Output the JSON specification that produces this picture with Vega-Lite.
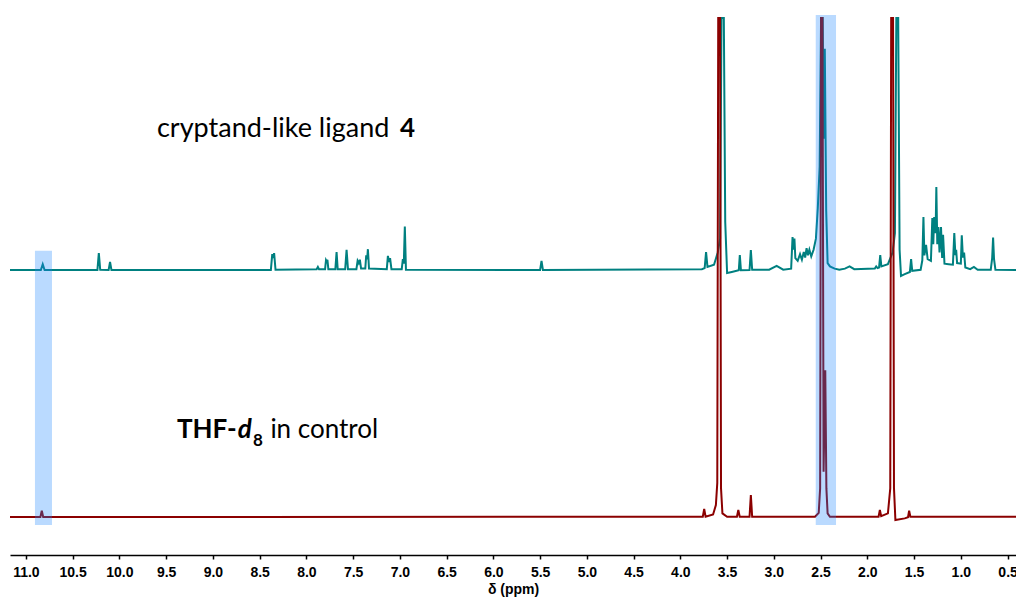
{
  "$schema": "https://vega.github.io/schema/vega-lite/v6.json",
  "width": 1006,
  "height": 555,
  "autosize": {"type": "none"},
  "padding": {"left": 10, "top": 0, "right": 0, "bottom": 43},
  "background": "white",
  "config": {"view": {"stroke": null}},
  "datasets": {
    "spec": [
      {"s":"ligand","ppm":11.17,"i":51.35},{"s":"ligand","ppm":10.84,"i":51.35},{"s":"ligand","ppm":10.82,"i":52.4},{"s":"ligand","ppm":10.80,"i":51.35},
      {"s":"ligand","ppm":10.235,"i":51.35},{"s":"ligand","ppm":10.22,"i":54.4},{"s":"ligand","ppm":10.205,"i":51.4},
      {"s":"ligand","ppm":10.115,"i":51.35},{"s":"ligand","ppm":10.10,"i":52.8},{"s":"ligand","ppm":10.085,"i":51.35},
      {"s":"ligand","ppm":8.38,"i":51.35},{"s":"ligand","ppm":8.365,"i":54.2},{"s":"ligand","ppm":8.355,"i":53.5},{"s":"ligand","ppm":8.345,"i":54.4},{"s":"ligand","ppm":8.33,"i":51.4},
      {"s":"ligand","ppm":7.89,"i":51.5},{"s":"ligand","ppm":7.877,"i":51.9},{"s":"ligand","ppm":7.865,"i":51.5},
      {"s":"ligand","ppm":7.80,"i":51.5},{"s":"ligand","ppm":7.79,"i":53.15},{"s":"ligand","ppm":7.782,"i":52.9},{"s":"ligand","ppm":7.775,"i":53.2},{"s":"ligand","ppm":7.765,"i":51.5},
      {"s":"ligand","ppm":7.69,"i":51.5},{"s":"ligand","ppm":7.677,"i":54.6},{"s":"ligand","ppm":7.665,"i":51.5},
      {"s":"ligand","ppm":7.585,"i":51.5},{"s":"ligand","ppm":7.57,"i":55.0},{"s":"ligand","ppm":7.555,"i":51.5},
      {"s":"ligand","ppm":7.465,"i":51.5},{"s":"ligand","ppm":7.452,"i":53.0},{"s":"ligand","ppm":7.44,"i":52.6},{"s":"ligand","ppm":7.428,"i":53.2},{"s":"ligand","ppm":7.415,"i":51.6},
      {"s":"ligand","ppm":7.37,"i":51.6},{"s":"ligand","ppm":7.36,"i":54.0},{"s":"ligand","ppm":7.35,"i":53.3},{"s":"ligand","ppm":7.342,"i":55.1},{"s":"ligand","ppm":7.33,"i":51.6},
      {"s":"ligand","ppm":7.14,"i":51.5},{"s":"ligand","ppm":7.128,"i":53.9},{"s":"ligand","ppm":7.115,"i":52.8},{"s":"ligand","ppm":7.105,"i":53.5},{"s":"ligand","ppm":7.09,"i":51.5},
      {"s":"ligand","ppm":6.98,"i":51.5},{"s":"ligand","ppm":6.968,"i":53.3},{"s":"ligand","ppm":6.958,"i":52.5},{"s":"ligand","ppm":6.947,"i":59.2},{"s":"ligand","ppm":6.935,"i":51.4},
      {"s":"ligand","ppm":5.50,"i":51.35},{"s":"ligand","ppm":5.485,"i":53.0},{"s":"ligand","ppm":5.47,"i":51.35},
      {"s":"ligand","ppm":3.77,"i":51.5},{"s":"ligand","ppm":3.74,"i":51.7},{"s":"ligand","ppm":3.725,"i":54.6},{"s":"ligand","ppm":3.71,"i":51.9},
      {"s":"ligand","ppm":3.64,"i":52.3},{"s":"ligand","ppm":3.60,"i":54.5},{"s":"ligand","ppm":3.575,"i":57},{"s":"ligand","ppm":3.56,"i":96.76},{"s":"ligand","ppm":3.535,"i":96.76},{"s":"ligand","ppm":3.52,"i":60},
      {"s":"ligand","ppm":3.50,"i":50.8},{"s":"ligand","ppm":3.45,"i":51.0},
      {"s":"ligand","ppm":3.375,"i":51.3},{"s":"ligand","ppm":3.364,"i":54.05},{"s":"ligand","ppm":3.352,"i":51.3},
      {"s":"ligand","ppm":3.26,"i":51.35},{"s":"ligand","ppm":3.246,"i":54.95},{"s":"ligand","ppm":3.232,"i":51.4},
      {"s":"ligand","ppm":3.05,"i":51.4},{"s":"ligand","ppm":2.97,"i":52.1},{"s":"ligand","ppm":2.90,"i":51.4},
      {"s":"ligand","ppm":2.815,"i":51.6},{"s":"ligand","ppm":2.80,"i":57.3},{"s":"ligand","ppm":2.79,"i":55},{"s":"ligand","ppm":2.78,"i":57.0},{"s":"ligand","ppm":2.77,"i":53.5},
      {"s":"ligand","ppm":2.745,"i":53},{"s":"ligand","ppm":2.72,"i":54.2},{"s":"ligand","ppm":2.70,"i":53.2},{"s":"ligand","ppm":2.68,"i":54.6},{"s":"ligand","ppm":2.665,"i":53.6},
      {"s":"ligand","ppm":2.65,"i":55.3},{"s":"ligand","ppm":2.635,"i":54.0},{"s":"ligand","ppm":2.62,"i":55.0},{"s":"ligand","ppm":2.60,"i":53.8},
      {"s":"ligand","ppm":2.575,"i":55.0},{"s":"ligand","ppm":2.55,"i":57},{"s":"ligand","ppm":2.53,"i":62.5},{"s":"ligand","ppm":2.51,"i":70},
      {"s":"ligand","ppm":2.495,"i":96.76},{"s":"ligand","ppm":2.478,"i":96.76},{"s":"ligand","ppm":2.465,"i":75},{"s":"ligand","ppm":2.455,"i":91.2},{"s":"ligand","ppm":2.44,"i":62},
      {"s":"ligand","ppm":2.425,"i":52.6},{"s":"ligand","ppm":2.40,"i":52.0},{"s":"ligand","ppm":2.35,"i":51.6},{"s":"ligand","ppm":2.30,"i":51.4},
      {"s":"ligand","ppm":2.24,"i":51.6},{"s":"ligand","ppm":2.19,"i":52.0},{"s":"ligand","ppm":2.14,"i":51.5},
      {"s":"ligand","ppm":1.92,"i":51.6},{"s":"ligand","ppm":1.905,"i":52.0},{"s":"ligand","ppm":1.89,"i":51.7},{"s":"ligand","ppm":1.875,"i":51.8},{"s":"ligand","ppm":1.862,"i":54.05},{"s":"ligand","ppm":1.85,"i":52.0},
      {"s":"ligand","ppm":1.78,"i":52.4},{"s":"ligand","ppm":1.73,"i":54.5},{"s":"ligand","ppm":1.705,"i":58},{"s":"ligand","ppm":1.69,"i":96.76},{"s":"ligand","ppm":1.67,"i":96.76},{"s":"ligand","ppm":1.655,"i":55},
      {"s":"ligand","ppm":1.64,"i":50.27},{"s":"ligand","ppm":1.60,"i":50.6},{"s":"ligand","ppm":1.545,"i":51.0},{"s":"ligand","ppm":1.532,"i":53.3},{"s":"ligand","ppm":1.52,"i":51.2},
      {"s":"ligand","ppm":1.43,"i":51.4},{"s":"ligand","ppm":1.412,"i":53.1},{"s":"ligand","ppm":1.40,"i":60.9},{"s":"ligand","ppm":1.39,"i":54},{"s":"ligand","ppm":1.372,"i":55.9},{"s":"ligand","ppm":1.355,"i":53.3},
      {"s":"ligand","ppm":1.32,"i":53.0},{"s":"ligand","ppm":1.305,"i":60.7},{"s":"ligand","ppm":1.295,"i":56},{"s":"ligand","ppm":1.285,"i":60.9},{"s":"ligand","ppm":1.27,"i":58},
      {"s":"ligand","ppm":1.262,"i":66.3},{"s":"ligand","ppm":1.252,"i":56},{"s":"ligand","ppm":1.24,"i":59.1},{"s":"ligand","ppm":1.228,"i":54.5},{"s":"ligand","ppm":1.212,"i":59.1},{"s":"ligand","ppm":1.20,"i":53.5},
      {"s":"ligand","ppm":1.19,"i":57.7},{"s":"ligand","ppm":1.175,"i":52.5},{"s":"ligand","ppm":1.13,"i":52.4},
      {"s":"ligand","ppm":1.085,"i":52.3},{"s":"ligand","ppm":1.07,"i":58.0},{"s":"ligand","ppm":1.058,"i":54},{"s":"ligand","ppm":1.05,"i":55},{"s":"ligand","ppm":1.04,"i":52.6},
      {"s":"ligand","ppm":1.00,"i":52.5},{"s":"ligand","ppm":0.99,"i":57.6},{"s":"ligand","ppm":0.978,"i":53.6},{"s":"ligand","ppm":0.965,"i":54.5},{"s":"ligand","ppm":0.952,"i":51.8},
      {"s":"ligand","ppm":0.90,"i":51.5},{"s":"ligand","ppm":0.86,"i":51.9},{"s":"ligand","ppm":0.82,"i":51.4},
      {"s":"ligand","ppm":0.68,"i":51.4},{"s":"ligand","ppm":0.665,"i":53.5},{"s":"ligand","ppm":0.655,"i":57.2},{"s":"ligand","ppm":0.645,"i":53.3},{"s":"ligand","ppm":0.63,"i":51.4},
      {"s":"ligand","ppm":0.41,"i":51.35},

      {"s":"control","ppm":11.17,"i":6.85},{"s":"control","ppm":10.845,"i":6.85},{"s":"control","ppm":10.83,"i":7.98},{"s":"control","ppm":10.815,"i":6.85},
      {"s":"control","ppm":3.76,"i":6.9},{"s":"control","ppm":3.745,"i":8.29},{"s":"control","ppm":3.73,"i":6.9},
      {"s":"control","ppm":3.65,"i":7.3},{"s":"control","ppm":3.62,"i":9.0},{"s":"control","ppm":3.605,"i":13},{"s":"control","ppm":3.595,"i":96.76},{"s":"control","ppm":3.575,"i":96.76},{"s":"control","ppm":3.565,"i":12},{"s":"control","ppm":3.55,"i":7.5},
      {"s":"control","ppm":3.50,"i":6.9},{"s":"control","ppm":3.395,"i":6.9},{"s":"control","ppm":3.38,"i":8.11},{"s":"control","ppm":3.365,"i":6.9},
      {"s":"control","ppm":3.26,"i":6.9},{"s":"control","ppm":3.246,"i":10.81},{"s":"control","ppm":3.232,"i":6.9},
      {"s":"control","ppm":2.56,"i":6.9},{"s":"control","ppm":2.52,"i":7.6},{"s":"control","ppm":2.505,"i":12},{"s":"control","ppm":2.495,"i":96.76},{"s":"control","ppm":2.48,"i":96.76},{"s":"control","ppm":2.468,"i":15},{"s":"control","ppm":2.45,"i":33.3},{"s":"control","ppm":2.438,"i":12},{"s":"control","ppm":2.425,"i":7.5},{"s":"control","ppm":2.40,"i":6.9},
      {"s":"control","ppm":1.88,"i":6.9},{"s":"control","ppm":1.866,"i":8.11},{"s":"control","ppm":1.852,"i":7.0},
      {"s":"control","ppm":1.78,"i":7.5},{"s":"control","ppm":1.755,"i":12},{"s":"control","ppm":1.745,"i":96.76},{"s":"control","ppm":1.725,"i":96.76},{"s":"control","ppm":1.715,"i":12},{"s":"control","ppm":1.70,"i":6.3},
      {"s":"control","ppm":1.60,"i":6.6},{"s":"control","ppm":1.565,"i":6.8},{"s":"control","ppm":1.553,"i":8.0},{"s":"control","ppm":1.54,"i":6.9},{"s":"control","ppm":0.41,"i":6.9}
    ],
    "boxes": [
      {"x1":10.903,"x2":10.721,"y1":54.8,"y2":5.4},
      {"x1":2.552,"x2":2.335,"y1":97.3,"y2":5.4}
    ],
    "regular1": [
      {"ppm":9.598,"i":75.37,"t":"cryptand-like ligand"}
    ],
    "regular2": [
      {"ppm":8.385,"i":21.03,"t":"in control"}
    ],
    "boldright": [
      {"ppm":6.838,"i":75.37,"t":"4"}
    ],
    "bold": [
      {"ppm":9.384,"i":21.03,"t":"THF-"}
    ],
    "boldital": [{"ppm":8.735,"i":21.03,"t":"d"}],
    "sub": [{"ppm":8.572,"i":19.6,"t":"8"}]
  },
  "layer": [
    {
      "data": {"name": "spec"},
      "mark": {"type": "line", "strokeWidth": 2, "clip": true, "interpolate": "linear"},
      "encoding": {
        "x": {"field": "ppm", "type": "quantitative", "sort": null,
              "scale": {"domain": [0.41, 11.17], "reverse": true, "nice": false, "zero": false},
              "axis": {"title": "δ (ppm)", "grid": false,
                       "values": [0.5,0.75,1.0,1.25,1.5,1.75,2.0,2.25,2.5,2.75,3.0,3.25,3.5,3.75,4.0,4.25,4.5,4.75,5.0,5.25,5.5,5.75,6.0,6.25,6.5,6.75,7.0,7.25,7.5,7.75,8.0,8.25,8.5,8.75,9.0,9.25,9.5,9.75,10.0,10.25,10.5,10.75,11.0],
                       "labelExpr": "abs(datum.value*2 - round(datum.value*2)) < 0.01 ? format(datum.value, '.1f') : ''",
                       "labelOverlap": false, "labelFlush": false,
                       "domainColor": "black", "domainWidth": 1.5, "tickColor": "black", "tickWidth": 1.5, "tickSize": 4,
                       "labelFont": "Liberation Sans", "labelFontWeight": "bold", "labelFontSize": 14, "labelColor": "black", "labelPadding": 6,
                       "titleFont": "Liberation Sans", "titleFontWeight": "bold", "titleFontSize": 14, "titleColor": "black", "titlePadding": 3}},
        "y": {"field": "i", "type": "quantitative", "scale": {"domain": [0, 100], "nice": false}, "axis": null},
        "color": {"field": "s", "type": "nominal", "scale": {"domain": ["ligand", "control"], "range": ["#008080", "#8b0000"]}, "legend": null},
        "order": {"field": "ppm", "type": "quantitative", "sort": "descending"}
      }
    },
    {
      "data": {"name": "boxes"},
      "mark": {"type": "rect", "color": "#1a84ff", "opacity": 0.3},
      "encoding": {
        "x": {"field": "x1", "type": "quantitative"},
        "x2": {"field": "x2"},
        "y": {"field": "y1", "type": "quantitative"},
        "y2": {"field": "y2"}
      }
    },
    {
      "data": {"name": "regular1"},
      "mark": {"type": "text", "align": "left", "baseline": "alphabetic", "font": "Lato", "fontSize": 27, "color": "black"},
      "encoding": {"x": {"field": "ppm", "type": "quantitative"}, "y": {"field": "i", "type": "quantitative"}, "text": {"field": "t"}}
    },
    {
      "data": {"name": "regular2"},
      "mark": {"type": "text", "align": "left", "baseline": "alphabetic", "font": "Lato", "fontSize": 26, "color": "black"},
      "encoding": {"x": {"field": "ppm", "type": "quantitative"}, "y": {"field": "i", "type": "quantitative"}, "text": {"field": "t"}}
    },
    {
      "data": {"name": "boldright"},
      "mark": {"type": "text", "align": "right", "baseline": "alphabetic", "font": "Lato", "fontSize": 26, "fontWeight": "bold", "color": "black"},
      "encoding": {"x": {"field": "ppm", "type": "quantitative"}, "y": {"field": "i", "type": "quantitative"}, "text": {"field": "t"}}
    },
    {
      "data": {"name": "bold"},
      "mark": {"type": "text", "align": "left", "baseline": "alphabetic", "font": "Lato", "fontSize": 26, "fontWeight": "bold", "color": "black"},
      "encoding": {"x": {"field": "ppm", "type": "quantitative"}, "y": {"field": "i", "type": "quantitative"}, "text": {"field": "t"}}
    },
    {
      "data": {"name": "boldital"},
      "mark": {"type": "text", "align": "left", "baseline": "alphabetic", "font": "Lato", "fontSize": 26, "fontWeight": "bold", "fontStyle": "italic", "color": "black"},
      "encoding": {"x": {"field": "ppm", "type": "quantitative"}, "y": {"field": "i", "type": "quantitative"}, "text": {"field": "t"}}
    },
    {
      "data": {"name": "sub"},
      "mark": {"type": "text", "align": "left", "baseline": "alphabetic", "font": "Lato", "fontSize": 17, "fontWeight": "bold", "color": "black"},
      "encoding": {"x": {"field": "ppm", "type": "quantitative"}, "y": {"field": "i", "type": "quantitative"}, "text": {"field": "t"}}
    }
  ]
}
